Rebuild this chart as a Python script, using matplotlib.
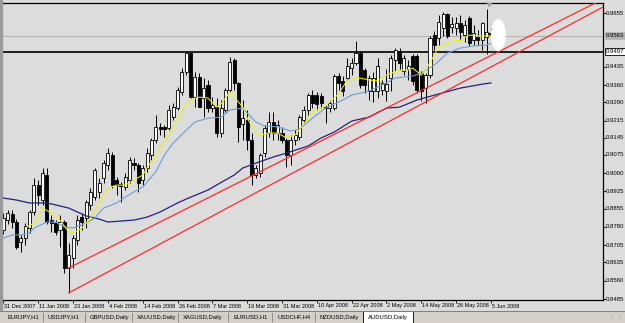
import matplotlib
matplotlib.use("Agg")
import matplotlib.pyplot as plt
from matplotlib.patches import Ellipse, Rectangle
import numpy as np

plt.rcParams['font.family'] = ['Liberation Sans', 'DejaVu Sans']

# AUDUSD daily, 31 Dec 2007 .. 5 Jun 2008 (one bar per trading day)
opens = [0.8767, 0.8808, 0.8833, 0.8800, 0.8718, 0.8735, 0.8775, 0.8841, 0.8951, 0.8890,
         0.8992, 0.8808, 0.8796, 0.8767, 0.8800, 0.8612, 0.8653, 0.8726, 0.8820, 0.8816,
         0.8870, 0.8902, 0.8923, 0.8980, 0.9033, 0.9074, 0.8972, 0.8955, 0.8943, 0.8972,
         0.9041, 0.9033, 0.8972, 0.9021, 0.9074, 0.9135, 0.9189, 0.9189, 0.9184, 0.9229,
         0.9266, 0.9332, 0.9414, 0.9491, 0.9311, 0.9393, 0.9307, 0.9360, 0.9266, 0.9270,
         0.9164, 0.9258, 0.9340, 0.9463, 0.9369, 0.9201, 0.9217, 0.9135, 0.8992, 0.9000,
         0.9082, 0.9164, 0.9209, 0.9164, 0.9164, 0.9135, 0.9074, 0.9135, 0.9148, 0.9217,
         0.9258, 0.9319, 0.9319, 0.9315, 0.9270, 0.9266, 0.9266, 0.9397, 0.9377, 0.9389,
         0.9430, 0.9450, 0.9491, 0.9422, 0.9336, 0.9336, 0.9336, 0.9340, 0.9336, 0.9389,
         0.9463, 0.9499, 0.9418, 0.9426, 0.9479, 0.9479, 0.9409, 0.9348, 0.9401, 0.9565,
         0.9553, 0.9593, 0.9651, 0.9598, 0.9593, 0.9614, 0.9565, 0.9634, 0.9544, 0.9557,
         0.9544, 0.9557, 0.9573]
highs = [0.8837, 0.8849, 0.8849, 0.8812, 0.8747, 0.8796, 0.8849, 0.8980, 0.8972, 0.9021,
         0.9021, 0.8829, 0.8808, 0.8829, 0.8808, 0.8714, 0.8747, 0.8829, 0.8837, 0.8890,
         0.8939, 0.9021, 0.8980, 0.9054, 0.9103, 0.9086, 0.8984, 0.8964, 0.9000, 0.9066,
         0.9062, 0.9041, 0.9033, 0.9103, 0.9144, 0.9238, 0.9205, 0.9197, 0.9279, 0.9287,
         0.9352, 0.9430, 0.9495, 0.9495, 0.9414, 0.9409, 0.9389, 0.9381, 0.9311, 0.9307,
         0.9299, 0.9348, 0.9475, 0.9471, 0.9373, 0.9299, 0.9258, 0.9164, 0.9033, 0.9082,
         0.9197, 0.9250, 0.9250, 0.9217, 0.9189, 0.9144, 0.9156, 0.9176, 0.9238, 0.9275,
         0.9328, 0.9340, 0.9332, 0.9328, 0.9279, 0.9299, 0.9405, 0.9409, 0.9397, 0.9471,
         0.9471, 0.9540, 0.9499, 0.9430, 0.9401, 0.9414, 0.9471, 0.9381, 0.9426, 0.9483,
         0.9512, 0.9512, 0.9483, 0.9463, 0.9487, 0.9487, 0.9418, 0.9409, 0.9561, 0.9581,
         0.9647, 0.9659, 0.9655, 0.9638, 0.9638, 0.9647, 0.9626, 0.9643, 0.9606, 0.9585,
         0.9618, 0.9671, 0.9593]
lows = [0.8751, 0.8792, 0.8775, 0.8690, 0.8677, 0.8706, 0.8755, 0.8829, 0.8870, 0.8870,
        0.8792, 0.8759, 0.8747, 0.8698, 0.8591, 0.8510, 0.8612, 0.8706, 0.8767, 0.8775,
        0.8849, 0.8890, 0.8898, 0.8960, 0.9013, 0.8939, 0.8910, 0.8882, 0.8931, 0.8960,
        0.9013, 0.8923, 0.8951, 0.9005, 0.9054, 0.9123, 0.9156, 0.9148, 0.9176, 0.9217,
        0.9258, 0.9319, 0.9401, 0.9307, 0.9270, 0.9270, 0.9229, 0.9250, 0.9250, 0.9148,
        0.9148, 0.9250, 0.9332, 0.9340, 0.9127, 0.9135, 0.9094, 0.8951, 0.8980, 0.8984,
        0.9066, 0.9148, 0.9135, 0.9135, 0.9123, 0.9025, 0.9033, 0.9115, 0.9135, 0.9205,
        0.9238, 0.9266, 0.9258, 0.9266, 0.9205, 0.9250, 0.9258, 0.9340, 0.9315, 0.9381,
        0.9401, 0.9442, 0.9348, 0.9328, 0.9299, 0.9291, 0.9307, 0.9319, 0.9295, 0.9336,
        0.9418, 0.9422, 0.9401, 0.9381, 0.9360, 0.9328, 0.9295, 0.9287, 0.9389, 0.9504,
        0.9524, 0.9561, 0.9553, 0.9573, 0.9565, 0.9544, 0.9536, 0.9520, 0.9524, 0.9524,
        0.9504, 0.9487, 0.9553]
closes = [0.8816, 0.8837, 0.8800, 0.8698, 0.8735, 0.8784, 0.8841, 0.8951, 0.8910, 0.9000,
          0.8800, 0.8796, 0.8759, 0.8800, 0.8612, 0.8665, 0.8735, 0.8808, 0.8800, 0.8882,
          0.8923, 0.9013, 0.8960, 0.9041, 0.9082, 0.8951, 0.8951, 0.8947, 0.8984, 0.9054,
          0.9033, 0.8960, 0.9021, 0.9082, 0.9135, 0.9189, 0.9180, 0.9180, 0.9258, 0.9270,
          0.9340, 0.9414, 0.9491, 0.9311, 0.9393, 0.9270, 0.9348, 0.9266, 0.9279, 0.9164,
          0.9266, 0.9340, 0.9454, 0.9369, 0.9189, 0.9225, 0.9135, 0.8992, 0.9021, 0.9074,
          0.9184, 0.9209, 0.9164, 0.9197, 0.9135, 0.9074, 0.9135, 0.9156, 0.9229, 0.9258,
          0.9319, 0.9287, 0.9283, 0.9287, 0.9266, 0.9287, 0.9397, 0.9369, 0.9336, 0.9438,
          0.9450, 0.9491, 0.9360, 0.9360, 0.9389, 0.9389, 0.9438, 0.9369, 0.9364, 0.9471,
          0.9504, 0.9450, 0.9471, 0.9438, 0.9377, 0.9340, 0.9336, 0.9401, 0.9553, 0.9524,
          0.9618, 0.9651, 0.9561, 0.9610, 0.9614, 0.9577, 0.9606, 0.9532, 0.9573, 0.9544,
          0.9614, 0.9577, 0.9565]

# moving averages at sample bars
ma_fast_x = [5, 7, 9, 11, 13, 15, 16, 18, 20, 22, 24, 26, 28, 30, 32, 33, 35, 38, 40, 42,
             43, 45, 47, 49, 50, 52, 53, 55, 56, 58, 59, 61, 63, 65, 67, 69, 71, 74, 77, 79,
             82, 84, 86, 88, 91, 93, 94, 96, 97, 99, 100, 103, 105, 107, 109, 112]
ma_fast_y = [0.8775, 0.8796, 0.8857, 0.8837, 0.8808, 0.8759, 0.8755, 0.8775, 0.8816, 0.8882,
             0.8939, 0.8951, 0.8951, 0.8972, 0.8992, 0.9021, 0.9074, 0.9156, 0.9225, 0.9283,
             0.9299, 0.9311, 0.9307, 0.9270, 0.9283, 0.9332, 0.9311, 0.9270, 0.9225, 0.9164,
             0.9156, 0.9164, 0.9164, 0.9144, 0.9156, 0.9201, 0.9250, 0.9275, 0.9324, 0.9381,
             0.9389, 0.9381, 0.9377, 0.9401, 0.9422, 0.9422, 0.9430, 0.9401, 0.9422, 0.9483,
             0.9516, 0.9540, 0.9544, 0.9565, 0.9561, 0.9561]
ma_mid_x = [0, 2, 4, 6, 7, 10, 12, 14, 16, 19, 21, 23, 26, 28, 30, 32, 35, 37, 39, 42,
            44, 47, 50, 52, 55, 56, 58, 60, 63, 66, 68, 71, 74, 78, 80, 84, 87, 90, 94, 96,
            99, 102, 105, 108, 111, 112]
ma_mid_y = [0.8735, 0.8747, 0.8747, 0.8755, 0.8775, 0.8800, 0.8800, 0.8780, 0.8775, 0.8796,
            0.8816, 0.8857, 0.8878, 0.8902, 0.8923, 0.8943, 0.9005, 0.9074, 0.9123, 0.9176,
            0.9209, 0.9225, 0.9229, 0.9258, 0.9266, 0.9246, 0.9209, 0.9193, 0.9189, 0.9172,
            0.9180, 0.9225, 0.9266, 0.9299, 0.9319, 0.9336, 0.9360, 0.9389, 0.9397, 0.9409,
            0.9442, 0.9491, 0.9512, 0.9520, 0.9524, 0.9532]
ma_slow_x = [0, 3, 6, 10, 12, 15, 17, 19, 22, 24, 27, 30, 33, 36, 40, 42, 47, 51, 53, 55,
             58, 62, 65, 70, 73, 76, 80, 84, 88, 91, 95, 100, 105, 110, 112]
ma_slow_y = [0.8898, 0.8890, 0.8878, 0.8878, 0.8870, 0.8857, 0.8841, 0.8825, 0.8812, 0.8800,
             0.8804, 0.8808, 0.8820, 0.8841, 0.8878, 0.8894, 0.8931, 0.8972, 0.8992, 0.9021,
             0.9041, 0.9066, 0.9082, 0.9111, 0.9144, 0.9168, 0.9213, 0.9229, 0.9266, 0.9270,
             0.9299, 0.9324, 0.9348, 0.9364, 0.9369]

# two trend lines (anchor bar, price)
trend_upper_x = [15, 136]
trend_upper_y = [0.8612, 0.9696]
trend_lower_x = [15, 137.7]
trend_lower_y = [0.8510, 0.9679]

bid_price = 0.9563
level_price = 0.9497

date_labels = ["31 Dec 2007", "11 Jan 2008", "23 Jan 2008", "4 Feb 2008", "14 Feb 2008",
               "26 Feb 2008", "7 Mar 2008", "19 Mar 2008", "31 Mar 2008", "10 Apr 2008",
               "22 Apr 2008", "2 May 2008", "14 May 2008", "26 May 2008", "5 Jun 2008"]
price_labels = [0.9655, 0.9435, 0.9360, 0.9290, 0.9215, 0.9145, 0.9075, 0.9000,
                0.8925, 0.8855, 0.8780, 0.8705, 0.8635, 0.8560, 0.8485]
tabs = ["EURJPY,H1", "USDJPY,H1", "GBPUSD,Daily", "XAUUSD,Daily", "XAGUSD,Daily",
        "EURUSD,H1", "USDCHF,H4", "NZDUSD,Daily", "AUDUSD,Daily"]

W, H = 625, 323
BG = "#dcdcdc"
fig = plt.figure(figsize=(W / 100, H / 100), dpi=100)
fig.patch.set_facecolor(BG)
ax = fig.add_axes([3 / W, 23 / H, 600 / W, 297 / H])
ax.set_facecolor(BG)

o = np.array(opens); c = np.array(closes)
hi = np.array(highs); lo = np.array(lows)
x = np.arange(len(o))
up = c >= o

ax.vlines(x, lo, hi, color="black", lw=0.7, zorder=3)
body_lo = np.minimum(o, c)
body_h = np.maximum(np.abs(c - o), 0.00025)
ax.bar(x[up], body_h[up], bottom=body_lo[up], width=0.7, color="white",
       edgecolor="black", lw=0.6, zorder=4)
ax.bar(x[~up], body_h[~up], bottom=body_lo[~up], width=0.7, color="black",
       edgecolor="black", lw=0.6, zorder=4)

ax.plot(ma_slow_x, ma_slow_y, color="#23237a", lw=0.9, zorder=5)
ax.plot(ma_mid_x, ma_mid_y, color="#6a9fd6", lw=0.8, zorder=5)
ax.plot(ma_fast_x, ma_fast_y, color="#f2f200", lw=0.75, zorder=5)
ax.plot(trend_upper_x, trend_upper_y, color="#ff2a2a", lw=0.9, zorder=6)
ax.plot(trend_lower_x, trend_lower_y, color="#ff2a2a", lw=0.9, zorder=6)

ax.axhline(bid_price, color="#b4b4b4", lw=0.8, zorder=2)
ax.axhline(level_price, color="black", lw=1.2, zorder=2)

ax.add_patch(Ellipse((113.7, 0.9565), 3.1, 0.0125, color="white", zorder=7))
ax.plot([111.5], [0.9690], marker="v", color="#a0a0a0", ms=3, zorder=7)

ax.set_xlim(-0.1, 137.75)
ax.set_ylim(0.8481, 0.9696)
for s in ax.spines.values():
    s.set_color("black")
    s.set_linewidth(0.9)
ax.spines["left"].set_visible(False)

ax.set_xticks(np.arange(len(date_labels)) * 8)
ax.set_xticklabels([])
ax.tick_params(axis="x", direction="out", length=2, width=0.6, color="black")
ax.yaxis.tick_right()
ax.set_yticks(price_labels)
ax.set_yticklabels([])
ax.tick_params(axis="y", direction="out", length=2, width=0.6, color="black")

fs_date, fs_price, fs_tab = 4.0, 4.3, 4.2
for k, lab in enumerate(date_labels):
    ax.annotate(lab, (k * 8, 0), xycoords=("data", "axes fraction"), xytext=(1, -6),
                textcoords="offset pixels", fontsize=fs_date, ha="left", va="center")
for v in price_labels:
    ax.annotate(f"{v:.4f}", (1, v), xycoords=("axes fraction", "data"), xytext=(3, 0),
                textcoords="offset pixels", fontsize=fs_price, ha="left", va="center")
ax.annotate(f"{bid_price:.4f}", (1, bid_price), xycoords=("axes fraction", "data"),
            xytext=(3, 0), textcoords="offset pixels", fontsize=fs_price, ha="left",
            va="center",
            bbox=dict(boxstyle="square,pad=0.15", fc="#b4b4b4", ec="#b4b4b4", lw=0.5))
ax.annotate(f"{level_price:.4f}", (1, level_price), xycoords=("axes fraction", "data"),
            xytext=(3, 0), textcoords="offset pixels", fontsize=fs_price, ha="left",
            va="center", bbox=dict(boxstyle="square,pad=0.15", fc="white", ec="black", lw=0.6))

# left frame strip and tab bar
fig.add_artist(Rectangle((0, 0), 2 / W, 1, transform=fig.transFigure, color="#9a9a9a"))
fig.add_artist(Rectangle((0, 0), 1, 12 / H, transform=fig.transFigure, color="#d4d0c8"))
fig.add_artist(plt.Line2D([0, 1], [12.5 / H, 12.5 / H], transform=fig.transFigure,
                          color="#808080", lw=0.7))
tab_x = [7, 48, 90, 137, 183, 233, 277, 320, 368]
sep_x = [43, 85, 132, 178, 228, 272, 315]
for sx in sep_x:
    fig.add_artist(plt.Line2D([sx / W, sx / W], [2 / H, 10 / H], transform=fig.transFigure,
                              color="#808080", lw=0.6))
fig.add_artist(Rectangle((363 / W, 0), 50 / W, 12 / H, transform=fig.transFigure,
                         fc="white", ec="black", lw=0.6))
for tx, t in zip(tab_x, tabs):
    fig.text(tx / W, 6 / H, t, fontsize=fs_tab, ha="left", va="center")
fig.text(612 / W, 6 / H, "\u2039", fontsize=fs_tab, color="#909090", ha="center", va="center")
fig.text(620 / W, 6 / H, "\u203a", fontsize=fs_tab, color="#909090", ha="center", va="center")

fig.savefig("out.png", dpi=100, facecolor=BG)
